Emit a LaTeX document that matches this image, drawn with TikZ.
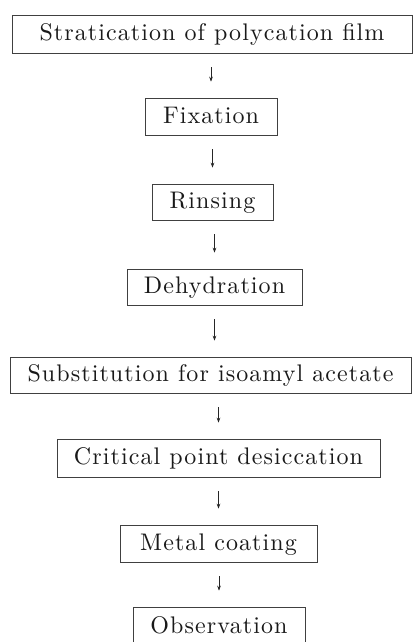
\documentclass[tikz,border=0pt]{standalone}
\usepackage{fontspec}
\usetikzlibrary{arrows.meta}
\newfontfamily\stepfam{lmroman10-regular.otf}[LetterSpace=4.5]
\newcommand\stepfont{\stepfam\fontsize{24}{28}\selectfont}
\begin{document}
\begin{tikzpicture}[x=1pt,y=-1pt,
  stepbox/.style={draw=black!75, line width=0.65pt, inner sep=0pt,
    text height=17pt, text depth=4pt, font=\stepfont, text=black!90},
  flow/.style={draw=black!85, line width=0.6pt,
    -{Stealth[length=5pt,width=3.6pt]}, shorten <=14pt, shorten >=16pt}]
\path[use as bounding box] (0,0) rectangle (419,642);
\clip (0,0) rectangle (419,642);
\node[stepbox, minimum width=400pt, minimum height=38pt] (s1) at (212,34) {Stratication of polycation film};
\node[stepbox, minimum width=132pt, minimum height=37pt] (s2) at (211,116.5) {Fixation};
\node[stepbox, minimum width=121pt, minimum height=36pt] (s3) at (212.5,202) {Rinsing};
\node[stepbox, minimum width=175pt, minimum height=36pt] (s4) at (214.5,287) {Dehydration};
\node[stepbox, minimum width=401pt, minimum height=36pt] (s5) at (210.5,375) {Substitution for isoamyl acetate};
\node[stepbox, minimum width=323pt, minimum height=38pt] (s6) at (218.5,458) {Critical point desiccation};
\node[stepbox, minimum width=197pt, minimum height=37pt] (s7) at (218.5,543.5) {Metal coating};
\node[stepbox, minimum width=172pt, minimum height=39pt] (s8) at (219,626.5) {Observation};
\draw[flow] (s1.south -| s2.north) -- (s2.north);
\draw[flow] (s2.south -| s3.north) -- (s3.north);
\draw[flow] (s3.south -| s4.north) -- (s4.north);
\draw[flow] (s4.south) -- (s4.south |- s5.north);
\draw[flow] (s5.south -| s6.north) -- (s6.north);
\draw[flow] (s6.south -| s7.north) -- (s7.north);
\draw[flow] (s7.south -| s8.north) -- (s8.north);
\end{tikzpicture}
\end{document}
